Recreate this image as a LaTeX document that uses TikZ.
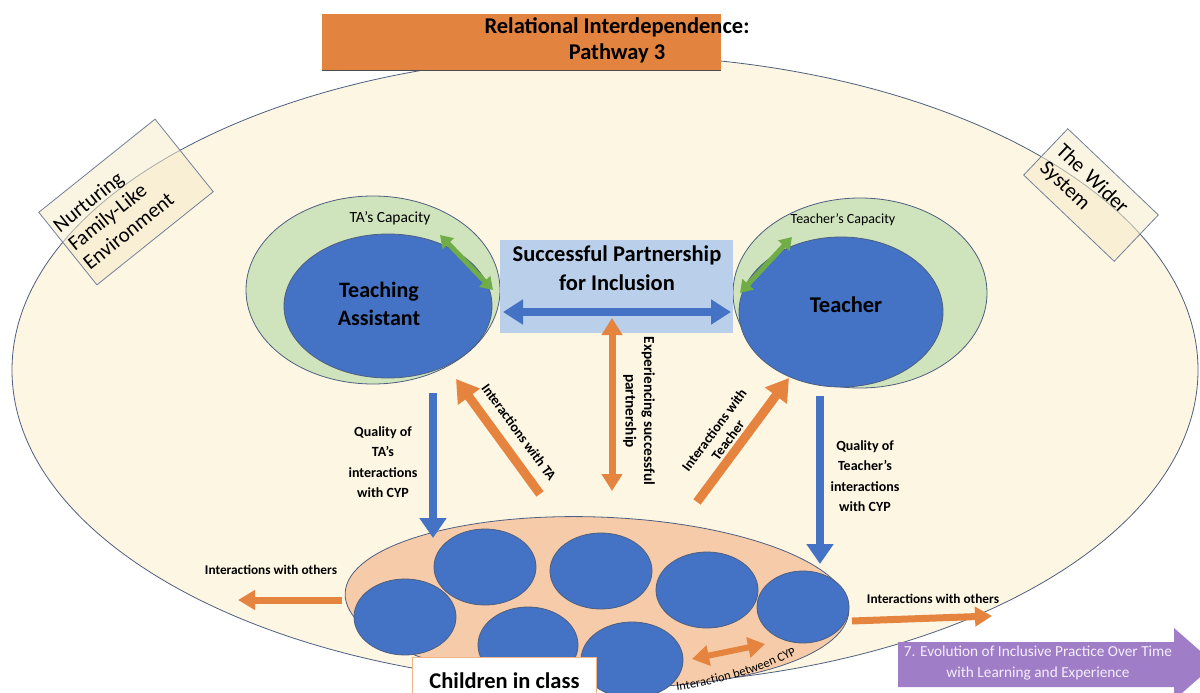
\documentclass[tikz,border=0pt]{standalone}
\usepackage{fontspec}
\setmainfont{Carlito}
\usetikzlibrary{shapes.geometric,arrows.meta,decorations.text}

\definecolor{cream}{HTML}{FDF6E3}
\definecolor{labelfill}{HTML}{F6EBCB}
\definecolor{outline}{HTML}{4F5F7F}
\definecolor{titleorange}{HTML}{E2843F}
\definecolor{capgreen}{HTML}{CFE3BC}
\definecolor{coreblue}{HTML}{4472C4}
\definecolor{paleblue}{HTML}{B9CFEA}
\definecolor{linkorange}{HTML}{E4843F}
\definecolor{linkgreen}{HTML}{70AD47}
\definecolor{classpeach}{HTML}{F5CBA9}
\definecolor{classedge}{HTML}{F2B487}
\definecolor{evolve}{HTML}{A07DC7}
\definecolor{evolvetext}{HTML}{F4EEFB}

\newcommand{\sz}[2]{\fontsize{#1}{#2}\selectfont}

\begin{document}
\begin{tikzpicture}[x=1pt,y=-1pt,
  oval/.style={ellipse, draw=outline, line width=0.8pt, inner sep=0pt},
  tag/.style={draw=outline!80, line width=0.8pt, fill=labelfill, fill opacity=0.55, text opacity=1, align=left},
  child/.style={oval, fill=coreblue, minimum width=102pt, minimum height=76pt},
  blueway/.style={draw=coreblue, line width=8pt, arrows={-Triangle[length=20pt,width=26pt]}},
  bluetwin/.style={draw=coreblue, line width=8pt, arrows={Triangle[length=20pt,width=24pt]-Triangle[length=20pt,width=24pt]}},
  orangeway/.style={draw=linkorange, line width=9pt, arrows={-Triangle[length=22pt,width=26pt]}},
  orangetwin/.style={draw=linkorange, line width=7pt, arrows={Triangle[length=17pt,width=20pt]-Triangle[length=17pt,width=20pt]}},
  orangeshort/.style={draw=linkorange, line width=7pt, arrows={-Triangle[length=17pt,width=19pt]}},
  greentwin/.style={draw=linkgreen, line width=5pt, arrows={Triangle[length=12pt,width=15pt]-Triangle[length=12pt,width=15pt]}},
  small/.style={font=\bfseries\sz{14}{20.5}, align=center},
]
\useasboundingbox (0,0) rectangle (1200,693);
\clip (0,0) rectangle (1200,693);
\fill[white] (0,0) rectangle (1200,693);

% the surrounding system
\node[oval, fill=cream, minimum width=1186pt, minimum height=630pt] (world) at (605,370) {};

% rotated labels on the rim
\node[tag, rotate=38.7, minimum width=149pt, minimum height=93pt, text width=142pt, inner xsep=3.5pt, font=\sz{21}{24}] (nurture) at (126,202) {Nurturing\\Family-Like\\Environment};
\node[tag, rotate=-43.6, minimum width=125pt, minimum height=64pt, text width=111pt, inner xsep=7pt, font=\sz{21}{23.5}] (wider) at (1091,195) {The Wider\\System};

% title banner
\node[fill=titleorange, minimum width=399pt, minimum height=56pt, anchor=north west, inner sep=0pt] (banner) at (322,14) {};
\draw[gray!60!black, line width=0.8pt] (banner.south west) -- (banner.south east);
\node[font=\bfseries\sz{22.5}{26}, align=center] (bannertext) at (617,40) {Relational Interdependence:\\Pathway 3};

% teaching assistant
\node[oval, fill=capgreen, minimum width=254pt, minimum height=188pt] (tacap) at (373,290) {};
\node[oval, fill=coreblue, minimum width=208pt, minimum height=144pt] (tacore) at (388,306) {};
\node[font=\sz{15.5}{18}] (tacaplabel) at (390,218) {TA’s Capacity};
\node[font=\bfseries\sz{22}{28}, align=center] (talabel) at (379,304) {Teaching\\Assistant};
\coordinate (tagA) at (440,235);
\coordinate (tagB) at (493,290);
\draw[greentwin] (tagA) -- (tagB);

% teacher
\node[oval, fill=capgreen, minimum width=254pt, minimum height=190pt] (tcap) at (860,293) {};
\node[oval, fill=coreblue, minimum width=204pt, minimum height=150pt] (tcore) at (841,312) {};
\node[font=\sz{14}{17}] (tcaplabel) at (843,220) {Teacher’s Capacity};
\node[font=\bfseries\sz{22.5}{28}] (tlabel) at (846,305) {Teacher};
\coordinate (tgA) at (740,293);
\coordinate (tgB) at (792,237);
\draw[greentwin] (tgA) -- (tgB);

% partnership
\node[fill=paleblue, minimum width=233pt, minimum height=93pt, inner sep=0pt] (partner) at (616.5,286.5) {};
\node[font=\bfseries\sz{22.5}{29}, align=center] (partnertext) at (617,268) {Successful Partnership\\for Inclusion};
\coordinate (pL) at (503,312);
\coordinate (pR) at (731,312);
\draw[bluetwin] (pL) -- (pR);

% children in class
\node[oval, fill=classpeach, minimum width=504pt, minimum height=170pt, rotate=-2] (class) at (597,602) {};
\node[child] (c1) at (405,617) {};
\node[child] (c2) at (485,567) {};
\node[child] (c3) at (601,571) {};
\node[child] (c4) at (707,590) {};
\node[child, minimum width=92pt, minimum height=72pt] (c5) at (803,607) {};
\node[child, minimum width=100pt] (c6) at (528,645) {};
\node[child] (c7) at (632,660) {};
\node[draw=classedge, fill=white, line width=1pt, minimum width=184pt, minimum height=46pt, anchor=north west, inner sep=0pt, font=\bfseries\sz{22.5}{26}] (classbox) at (412,657) {Children in class};

% links between the partners and the class
\coordinate (epTop) at (612,318);
\coordinate (epBot) at (612,491);
\draw[orangetwin] (epTop) -- (epBot);
\node[small, font=\bfseries\sz{15.3}{18.5}, rotate=-90] (eplabel) at (639,411) {Experiencing successful\\partnership};

\coordinate (qaTop) at (433,393);
\coordinate (qaTip) at (433,538);
\draw[blueway] (qaTop) -- (qaTip);
\node[small] (qalabel) at (383,462) {Quality of\\TA’s\\interactions\\with CYP};

\coordinate (qtTop) at (820,396);
\coordinate (qtTip) at (820,564);
\draw[blueway] (qtTop) -- (qtTip);
\node[small] (qtlabel) at (865,476) {Quality of\\Teacher’s\\interactions\\with CYP};

\coordinate (iaTail) at (540,494);
\coordinate (iaTip) at (456,379);
\draw[orangeway] (iaTail) -- (iaTip);
\node[font=\bfseries\sz{14}{17}, rotate=-53.9] (ialabel) at (519,432) {Interactions with TA};

\coordinate (itTail) at (697,502);
\coordinate (itTip) at (789,378);
\draw[orangeway] (itTail) -- (itTip);
\node[font=\bfseries\sz{14}{17}, align=center, rotate=53.4] (itlabel) at (721,435) {Interactions with\\Teacher};

% among the children and beyond
\coordinate (cyA) at (692,659);
\coordinate (cyB) at (765,644);
\draw[orangetwin, line width=6pt] (cyA) -- (cyB);
% caption bending along the lower rim of the class
\coordinate (cyS) at (664,692);
\coordinate (cyE) at (808,648);
\path[decorate, decoration={text along path, text align=center,
  text={|\sz{12.5}{15}|Interaction between CYP}}]
  (cyS) .. controls (705,688) and (765,673) .. (cyE);

\node[font=\bfseries\sz{13.3}{16}] (othersL) at (271,570) {Interactions with others};
\coordinate (oLtail) at (342,600);
\coordinate (oLtip) at (238,600);
\draw[orangeshort] (oLtail) -- (oLtip);

\node[font=\bfseries\sz{13.3}{16}] (othersR) at (933,599) {Interactions with others};
\coordinate (oRtail) at (852,621);
\coordinate (oRtip) at (992,616);
\draw[orangeshort] (oRtail) -- (oRtip);

% evolution over time
\fill[evolve] (898,642) -- (1174,642) -- (1174,628) -- (1215,664) -- (1174,700) -- (1174,687) -- (898,687) -- cycle;
\node[font=\sz{15.3}{20.5}, text=evolvetext, align=center] (evolution) at (1038,663) {7. Evolution of Inclusive Practice Over Time\\with Learning and Experience};
\end{tikzpicture}
\end{document}
